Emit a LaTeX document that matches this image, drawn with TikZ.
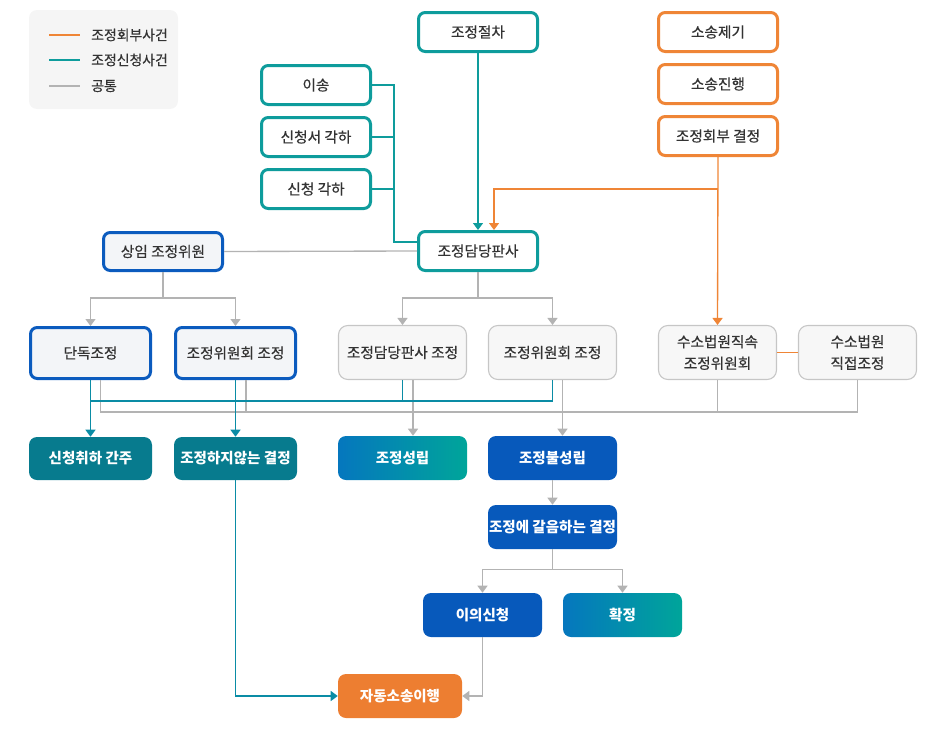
\documentclass[tikz,border=0pt]{standalone}
\usepackage{fontspec}
\setmainfont{Noto Sans CJK KR}
\newfontfamily\medfont[FakeBold=0.45]{Noto Sans CJK KR}
\usetikzlibrary{arrows.meta,calc}
\definecolor{tealB}{HTML}{0E9C9C}
\definecolor{tealL}{HTML}{0A8CA5}
\definecolor{orgB}{HTML}{EF8536}
\definecolor{blueB}{HTML}{0B5BBE}
\definecolor{grayL}{HTML}{B3B3B3}
\definecolor{grayB}{HTML}{C6C6C6}
\definecolor{txt}{HTML}{333333}
\definecolor{dteal}{HTML}{077B8E}
\definecolor{bfill}{HTML}{0759BB}
\definecolor{gL}{HTML}{0577BE}
\definecolor{gR}{HTML}{00A59A}
\definecolor{ofill}{HTML}{ED7E31}
\definecolor{legbg}{HTML}{F5F5F5}
\definecolor{bboxbg}{HTML}{F3F5F8}
\definecolor{gboxbg}{HTML}{F7F7F7}
\begin{document}
\begin{tikzpicture}[x=0.75pt,y=-0.75pt,
  sz/.style 2 args={minimum width=#1*0.75pt, minimum height=#2*0.75pt},
  base/.style={inner sep=0pt, align=center, font=\medfont\fontsize{11}{16.2}\selectfont},
  tbox/.style={base, draw=tealB, line width=2.25pt, rounded corners=5pt, fill=white, text=txt},
  obox/.style={base, draw=orgB, line width=2.25pt, rounded corners=5pt, fill=white, text=txt},
  bbox/.style={base, draw=blueB, line width=2.25pt, rounded corners=5pt, fill=bboxbg, text=txt},
  gbox/.style={base, draw=grayB, line width=0.8pt, rounded corners=7pt, fill=gboxbg, text=txt},
  fbox/.style={base, rounded corners=6pt, text=white, font=\fontsize{10.9}{12}\selectfont\bfseries},
  dtbox/.style={fbox, fill=dteal},
  blbox/.style={fbox, fill=bfill},
  grbox/.style={fbox, left color=gL, right color=gR},
  orbox/.style={fbox, fill=ofill},
  ar/.style={-{Triangle[width=7.5pt,length=5.25pt]}},
  gline/.style={draw=grayL, line width=1pt},
  tline/.style={draw=tealB, line width=1pt},
  tline2/.style={draw=tealL, line width=1pt},
  oline/.style={draw=orgB, line width=1pt},
  legtxt/.style={anchor=west, inner sep=0pt, text=txt, font=\medfont\fontsize{10.4}{12}\selectfont}
]
\useasboundingbox (0,0) rectangle (942,728);

% legend
\fill[legbg, rounded corners=6pt] (29,10) rectangle (178,109);
\draw[orgB, line width=1.5pt] (49,35) -- (80,35);
\draw[tealB, line width=1.5pt] (49,60) -- (80,60);
\draw[grayL, line width=1.5pt] (49,86) -- (80,86);
\node[legtxt] (leg1) at (91,35) {조정회부사건};
\node[legtxt] (leg2) at (91,60) {조정신청사건};
\node[legtxt] (leg3) at (91,86) {공통};

% top nodes
\node[tbox, sz={119}{39}] (pro) at (478,32) {조정절차};
\node[obox, sz={119}{39}] (sj1) at (718,32) {소송제기};
\node[obox, sz={119}{39}] (sj2) at (718,84) {소송진행};
\node[obox, sz={119}{39}] (hb) at (718,136) {조정회부 결정};
\node[tbox, sz={109}{39}] (is) at (316,85) {이송};
\node[tbox, sz={109}{39}] (sc) at (316,137) {신청서 각하};
\node[tbox, sz={109}{39}] (sg) at (316,189) {신청 각하};
\node[tbox, sz={119}{39}] (jdp) at (478,251) {조정담당판사};
\node[bbox, sz={119}{38}] (sim) at (163,251.5) {상임 조정위원};

% middle row
\node[bbox, sz={120}{51}] (dd) at (90.5,353) {단독조정};
\node[bbox, sz={120}{51}] (cw1) at (235.5,353) {조정위원회 조정};
\node[gbox, sz={128}{54}] (jdpc) at (402.5,352.5) {조정담당판사 조정};
\node[gbox, sz={128}{54}] (cw2) at (552.5,352.5) {조정위원회 조정};
\node[gbox, sz={118}{54}] (sbj) at (717.5,352.5) {수소법원직속\\조정위원회};
\node[gbox, sz={118}{54}] (sbd) at (857.5,352.5) {수소법원\\직접조정};

% result row
\node[dtbox, sz={123}{43}] (cq) at (90.5,458.5) {신청취하 간주};
\node[dtbox, sz={123}{43}] (nd) at (235.5,458.5) {조정하지않는 결정};
\node[grbox, sz={129}{44}] (ok) at (402.5,458) {조정성립};
\node[blbox, sz={129}{44}] (nok) at (552.5,458) {조정불성립};
\node[blbox, sz={129}{44}] (alt) at (552.5,527) {조정에 갈음하는 결정};
\node[blbox, sz={119}{44}] (obj) at (482.5,615) {이의신청};
\node[grbox, sz={119}{44}] (conf) at (622.5,615) {확정};
\node[orbox, sz={124}{44}] (auto) at (400,696) {자동소송이행};

% helper coordinates
\coordinate (yO) at (0,189);
\coordinate (yT) at (0,401);
\coordinate (yG) at (0,412);
\coordinate (xB) at (394,0);

% top connectors
\draw[tline, ar] (pro.south) -- (jdp.north);
\draw[oline, ar] (hb.south) -- (sbj.north);
\draw[oline, ar] (hb.south |- yO) -| ($(jdp.north)+(16,0)$);
\draw[tline] (is.east) -| ($(xB |- jdp.west)+(0,-9)$) -- ($(jdp.west)+(0,-9)$);
\draw[tline] (sc.east) -- (sc.east -| xB);
\draw[tline] (sg.east) -- (sg.east -| xB);
\draw[gline] (sim.east) -- (jdp.west);
\draw[oline] (sbj.east) -- (sbd.west);

% second-level branches
\draw[gline, ar] (sim.south) -- ++(0,26) -| (dd.north);
\draw[gline, ar] (sim.south) -- ++(0,26) -| (cw1.north);
\draw[gline, ar] (jdp.south) -- ++(0,26) -| (jdpc.north);
\draw[gline, ar] (jdp.south) -- ++(0,26) -| (cw2.north);

% gray collector
\coordinate (g0) at ($(dd.south)+(10,0)$);
\coordinate (g1) at ($(cw1.south)+(10.5,0)$);
\coordinate (g2) at ($(jdpc.south)+(10.5,0)$);
\coordinate (g3) at ($(cw2.south)+(10,0)$);
\draw[gline] (g0) |- (sbd.south |- yG) -- (sbd.south);
\draw[gline] (g1) -- (g1 |- yG);
\draw[gline] (sbj.south) -- (sbj.south |- yG);
\draw[gline, ar] (g2) -- (g2 |- ok.north);
\draw[gline, ar] (g3) -- (g3 |- nok.north);

% teal collector
\draw[tline2, ar] (dd.south) -- (cq.north);
\draw[tline2, ar] (cw1.south) -- (nd.north);
\draw[tline2] (dd.south |- yT) -| (jdpc.south);
\draw[tline2] (jdpc.south |- yT) -| (cw2.south);

% lower flow
\draw[gline, ar] (nok.south) -- (alt.north);
\draw[gline, ar] (alt.south) -- ++(0,20) -| (obj.north);
\draw[gline, ar] (alt.south) -- ++(0,20) -| (conf.north);
\draw[gline, ar] (obj.south) |- (auto.east);
\draw[tline2, ar] (nd.south) |- (auto.west);
\end{tikzpicture}
\end{document}
